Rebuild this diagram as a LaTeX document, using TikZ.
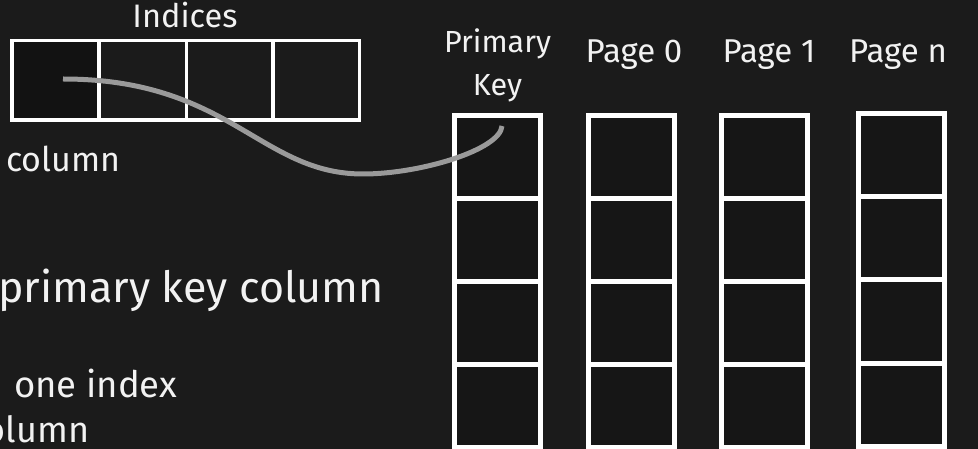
\documentclass[tikz,border=0pt]{standalone}
\usepackage{fontspec}
\setmainfont{Fira Sans}
\definecolor{bg}{HTML}{1B1B1B}
\definecolor{cellfill}{HTML}{161616}
\definecolor{idxfill}{HTML}{121212}
\definecolor{txt}{HTML}{F2F2F2}
\definecolor{link}{HTML}{9A9A9A}
\tikzset{
  cell/.style={draw=white, line width=5pt, fill=cellfill, minimum width=86pt, minimum height=83pt, inner sep=0pt, outer sep=0pt},
  idx/.style={draw=white, line width=3.5pt, minimum width=87pt, minimum height=79.5pt, inner sep=0pt, outer sep=0pt},
  lbl/.style={text=txt, inner sep=0pt, anchor=base},
  hdr/.style={font=\fontsize{33}{33}\selectfont},
  linkline/.style={draw=link, line width=5pt}
}
\begin{document}
\begin{tikzpicture}[x=1pt,y=-1pt]
\fill[bg] (0,0) rectangle (978,449);
\useasboundingbox (0,0) rectangle (978,449);
\clip (0,0) rectangle (978,449);
% Indices row
\node[idx, fill=idxfill] (i1) at (55.25,80.25) {};
\node[idx] (i2) at (143,80.25) {};
\node[idx] (i3) at (230,80.25) {};
\node[idx] (i4) at (316,80.25) {};
\node[lbl, font=\fontsize{32.5}{32.5}\selectfont] (tind) at (185,28) {Indices};
% Columns
\foreach \nm/\cx/\dy in {pk/497.5/0, pa/631/0, pb/764/0, pn/901.5/-1.5}{
  \foreach \r in {1,2,3,4}{
    \node[cell] (\nm\r) at (\cx,{157+\dy+83*(\r-1)}) {};
  }
}
% Headers
\node[lbl, font=\fontsize{30.5}{30.5}\selectfont] (tprim) at (497.5,53) {Primary};
\node[lbl, font=\fontsize{30.5}{30.5}\selectfont] (tkey) at (497.5,96) {Key};
\node[lbl, hdr] (tp0) at (634,63) {Page 0};
\node[lbl, hdr] (tp1) at (769,63) {Page 1};
\node[lbl, hdr] (tpn) at (898,63) {Page n};
% Left texts
\node[lbl, anchor=base west, font=\fontsize{34}{34}\selectfont] (tcol) at (6,172) {column};
\node[lbl, anchor=base west, font=\fontsize{43}{43}\selectfont] (tpkc) at (-2,302) {primary key column};
\node[lbl, anchor=base west, font=\fontsize{36.5}{36.5}\selectfont] (tone) at (14,397) {one index};
\node[lbl, anchor=base west, font=\fontsize{36}{36}\selectfont] (tcol2) at (-32,442) {column};
% Link curve
\coordinate (cs) at (63,79);
\coordinate (cm) at (363,174);
\coordinate (ce) at (502,126);
\draw[linkline] (cs) .. controls (230,79) and (260,174) .. (cm)
  .. controls (420,174) and (500,150) .. (ce);
\end{tikzpicture}
\end{document}
